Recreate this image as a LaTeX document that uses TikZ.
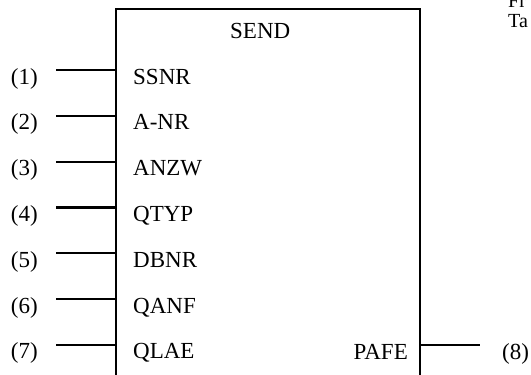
\documentclass[tikz,border=0pt]{standalone}
\usepackage{fontspec}
\setmainfont{Liberation Serif}
\tikzset{
  box/.style={
    line width=2.2pt,
    line join=miter
  },
  pinline/.style={
    line width=2.2pt
  },
  pinname/.style={
    inner sep=0pt,
    anchor=base west,
    font=\fontsize{23}{27}\selectfont
  },
  pinno/.style={
    inner sep=0pt,
    font=\fontsize{23}{27}\selectfont
  },
  sidetext/.style={
    inner sep=0pt,
    anchor=base west,
    font=\fontsize{20}{24}\selectfont
  }
}

\begin{document}
\begin{tikzpicture}[x=1pt,y=-1pt]
\useasboundingbox (0,0) rectangle (531,375);
\clip (0,0) rectangle (531,375);
% block
\draw[box] (116,390) -- (116,9) -- (420,9) -- (420,390);
\node[pinname] (title) at (230,38) {SEND};
% inputs
\foreach \name [count=\i] in {SSNR,A-NR,ANZW,QTYP,DBNR,QANF,QLAE} {
  \pgfmathsetmacro{\yy}{70+45.83*(\i-1)}
  \coordinate (in\i) at (116,\yy);
  \coordinate (w\i) at (56,\yy);
  \node[pinname] (p\i) at (133,\yy+14) {\name};
  \node[pinno, anchor=base east] (l\i) at (38,\yy+14) {(\i)};
  \draw[pinline] (w\i) -- (in\i);
}
% output
\coordinate (out8) at (420,345);
\coordinate (w8) at (480,345);
\node[pinname, anchor=base east] (p8) at (408,359) {PAFE};
\node[pinno, anchor=base west] (l8) at (502,359) {(8)};
\draw[pinline] (out8) -- (w8);
% cut off text at the side
\node[sidetext] (side1) at (508,7) {Fr};
\node[sidetext] (side2) at (508,27) {Ta};
\end{tikzpicture}
\end{document}
